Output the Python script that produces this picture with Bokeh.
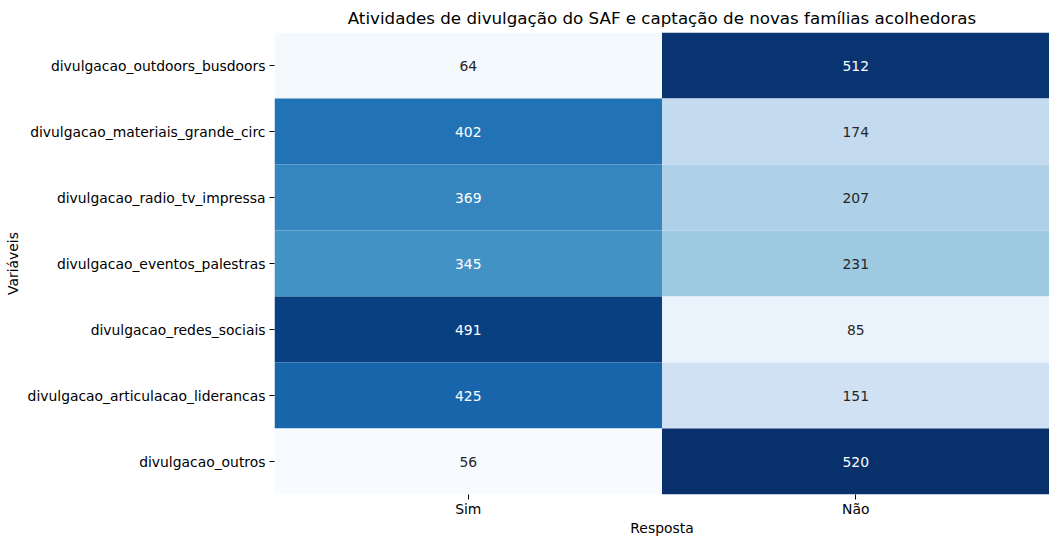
from bokeh.plotting import figure
from bokeh.models import ColumnDataSource, LinearColorMapper
from bokeh.transform import transform
from bokeh.embed import file_html
from bokeh.resources import INLINE

# --- data ---
variables = [
    "divulgacao_outdoors_busdoors",
    "divulgacao_materiais_grande_circ",
    "divulgacao_radio_tv_impressa",
    "divulgacao_eventos_palestras",
    "divulgacao_redes_sociais",
    "divulgacao_articulacao_liderancas",
    "divulgacao_outros",
]
responses = ["Sim", "Não"]
sim_values = [64, 402, 369, 345, 491, 425, 56]
nao_values = [512, 174, 207, 231, 85, 151, 520]

# --- matplotlib "Blues" colormap (linear through the 9 colorbrewer colours) ---
blues9 = ["#f7fbff", "#deebf7", "#c6dbef", "#9ecae1", "#6baed6",
          "#4292c6", "#2171b5", "#08519c", "#08306b"]

def hex2rgb(h):
    return tuple(int(h[i:i + 2], 16) for i in (1, 3, 5))

rgbs = [hex2rgb(c) for c in blues9]
palette = []
for k in range(256):
    t = k / 255 * 8
    i = min(int(t), 7)
    f = t - i
    c = [round(rgbs[i][j] + (rgbs[i + 1][j] - rgbs[i][j]) * f) for j in range(3)]
    palette.append("#%02x%02x%02x" % tuple(c))

xs, ys, vals = [], [], []
for v, s, n in zip(variables, sim_values, nao_values):
    xs += ["Sim", "Não"]
    ys += [v, v]
    vals += [s, n]

lo, hi = min(vals), max(vals)

def rel_lum(hexc):
    r, g, b = [x / 255 for x in hex2rgb(hexc)]
    def lin(u):
        return u / 12.92 if u <= 0.03928 else ((u + 0.055) / 1.055) ** 2.4
    return 0.2126 * lin(r) + 0.7152 * lin(g) + 0.0722 * lin(b)

text_colors = []
for v in vals:
    idx = min(255, int((v - lo) / (hi - lo) * 256))
    text_colors.append("#262626" if rel_lum(palette[idx]) > 0.408 else "#ffffff")

src = ColumnDataSource(dict(x=xs, y=ys, v=vals, label=[str(v) for v in vals], tc=text_colors))
mapper = LinearColorMapper(palette=palette, low=lo, high=hi)

FW, FH = 775, 462

p = figure(
    frame_width=FW, frame_height=FH,
    x_range=responses, y_range=list(reversed(variables)),
    output_backend="svg", toolbar_location=None,
    min_border_left=274, min_border_right=0, min_border_top=25, min_border_bottom=0,
    title="Atividades de divulgação do SAF e captação de novas famílias acolhedoras",
)
p.rect(x="x", y="y", width=1, height=1, source=src,
       fill_color=transform("v", mapper), line_color=None)
p.text(x="x", y="y", text="label", source=src, text_color="tc",
       text_align="center", text_baseline="middle",
       text_font_size="13.9px", text_font={"value": "DejaVu Sans"})

p.title.align = "center"
p.title.text_font = "DejaVu Sans"
p.title.text_font_size = "16.7px"
p.title.text_font_style = "normal"
p.title.text_color = "#000000"
p.title.offset = 0

for ax in (p.xaxis, p.yaxis):
    ax.axis_line_color = None
    ax.major_tick_line_color = "#000000"
    ax.major_tick_out = 5
    ax.major_tick_in = 0
    ax.minor_tick_line_color = None
    ax.major_label_text_font = "DejaVu Sans"
    ax.major_label_text_font_size = "13.9px"
    ax.major_label_text_color = "#000000"
    ax.major_label_text_line_height = 1.0
    ax.axis_label_text_font = "DejaVu Sans"
    ax.axis_label_text_font_size = "13.9px"
    ax.axis_label_text_font_style = "normal"
    ax.axis_label_text_color = "#000000"
    ax.axis_label_text_line_height = 1.0

p.xaxis.major_label_standoff = 1
p.yaxis.major_label_standoff = 4
p.xaxis.axis_label = "Resposta"
p.yaxis.axis_label = "Variáveis"
p.xaxis.axis_label_standoff = 0
p.yaxis.axis_label_standoff = 4

p.xgrid.grid_line_color = None
p.ygrid.grid_line_color = None
p.outline_line_color = None
p.x_range.range_padding = 0
p.y_range.range_padding = 0

open("out.html", "w").write(file_html(p, INLINE))
